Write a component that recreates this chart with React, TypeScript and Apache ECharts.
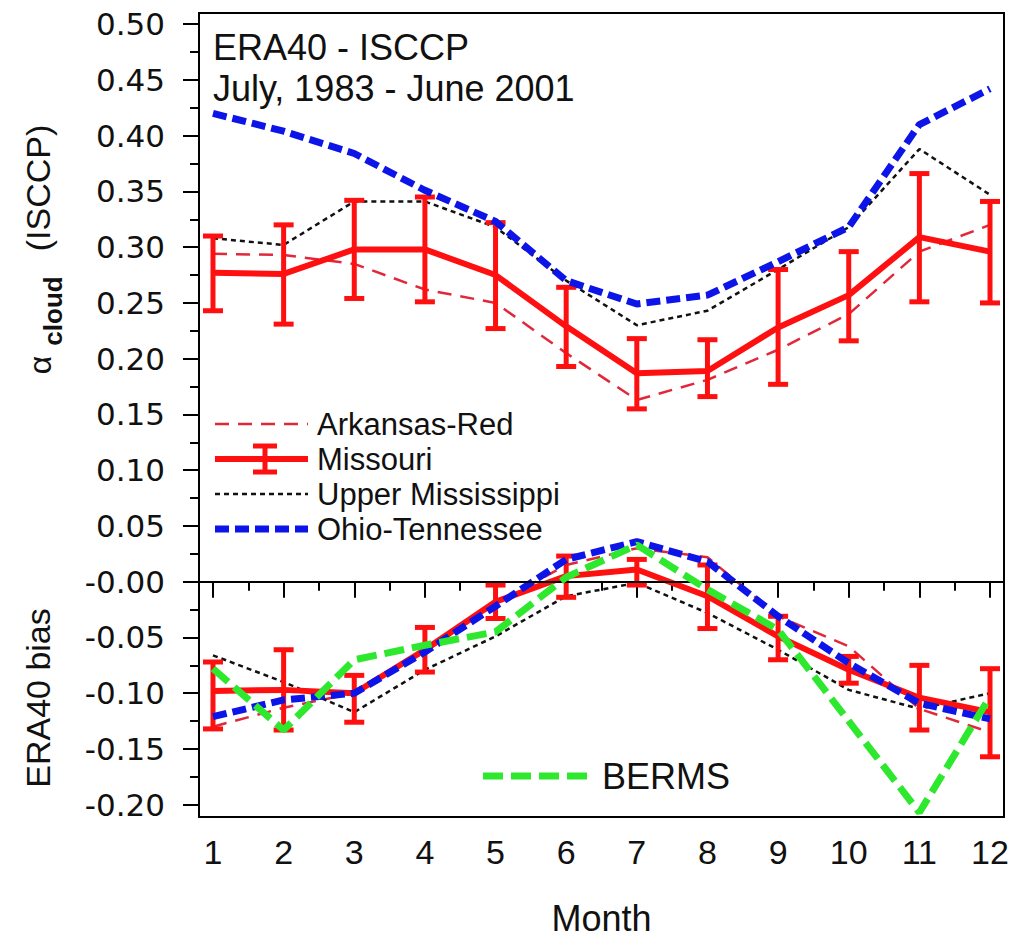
import React, { useEffect, useRef } from "react";
import * as echarts from "echarts";

// ---------- data ----------
const months = [1, 2, 3, 4, 5, 6, 7, 8, 9, 10, 11, 12];
const halfMonths = [1.5, 2.5, 3.5, 4.5, 5.5, 6.5, 7.5, 8.5, 9.5, 10.5, 11.5];

const yTickValues = [-0.2, -0.15, -0.1, -0.05, 0, 0.05, 0.1, 0.15, 0.2, 0.25, 0.3, 0.35, 0.4, 0.45, 0.5];
const yTickLabels = ["-0.20", "-0.15", "-0.10", "-0.05", "-0.00", "0.05", "0.10", "0.15", "0.20", "0.25", "0.30", "0.35", "0.40", "0.45", "0.50"];
const yMinorValues = [-0.175, -0.125, -0.075, -0.025, 0.025, 0.075, 0.125, 0.175, 0.225, 0.275, 0.325, 0.375, 0.425, 0.475];

// upper panel: alpha_cloud (ISCCP)
const arkansasRed = [0.294, 0.293, 0.285, 0.262, 0.250, 0.205, 0.163, 0.181, 0.208, 0.240, 0.296, 0.320];
const missouri = [0.277, 0.276, 0.298, 0.298, 0.275, 0.229, 0.187, 0.189, 0.228, 0.257, 0.309, 0.296];
const missouriLow = [0.243, 0.231, 0.254, 0.251, 0.227, 0.193, 0.155, 0.166, 0.177, 0.216, 0.251, 0.250];
const missouriHigh = [0.310, 0.320, 0.342, 0.345, 0.322, 0.264, 0.218, 0.217, 0.280, 0.296, 0.366, 0.341];
const upperMississippi = [0.308, 0.302, 0.341, 0.341, 0.318, 0.270, 0.230, 0.243, 0.280, 0.318, 0.388, 0.347];
const ohioTennessee = [0.420, 0.404, 0.384, 0.351, 0.323, 0.270, 0.249, 0.257, 0.287, 0.318, 0.410, 0.442];

// lower panel: ERA40 bias
const arkansasRedBias = [-0.130, -0.113, -0.100, -0.063, -0.020, 0.015, 0.030, 0.022, -0.031, -0.058, -0.114, -0.135];
const missouriBias = [-0.098, -0.097, -0.100, -0.061, -0.018, 0.005, 0.011, -0.013, -0.049, -0.079, -0.104, -0.117];
const missouriBiasLow = [-0.132, -0.133, -0.126, -0.081, -0.033, -0.014, -0.003, -0.042, -0.070, -0.091, -0.133, -0.157];
const missouriBiasHigh = [-0.072, -0.061, -0.084, -0.041, -0.003, 0.023, 0.020, 0.015, -0.031, -0.067, -0.075, -0.078];
const upperMississippiBias = [-0.066, -0.090, -0.117, -0.079, -0.049, -0.013, -0.001, -0.028, -0.061, -0.097, -0.114, -0.100];
const ohioTennesseeBias = [-0.121, -0.106, -0.100, -0.063, -0.022, 0.020, 0.036, 0.018, -0.031, -0.073, -0.109, -0.123];
const bermsBias = [-0.078, -0.133, -0.070, -0.057, -0.045, 0.004, 0.033, -0.007, -0.043, -0.125, -0.207, -0.103];

// ---------- styling ----------
const X_MIN = 0.802;
const X_MAX = 12.198;
const Y_MIN = -0.211;
const Y_MAX = 0.51;

const RED = "#ff1010";
const DRED = "#e0283a";
const BLUE = "#0c14e8";
const GREEN = "#2ee82e";
const BLACK = "#111111";
const SANS = "Liberation Sans, Arial, sans-serif";
const WIDE = "DejaVu Sans, sans-serif";

const pairs = (vals: number[]) => months.map((m, i) => [m, vals[i]]);
const errPairs = (lo: number[], hi: number[]) => months.map((m, i) => [m, lo[i], hi[i]]);

const errRender = (params: any, api: any) => {
  const x = api.value(0);
  const p1 = api.coord([x, api.value(2)]);
  const p2 = api.coord([x, api.value(1)]);
  const hw = 10;
  const st = { stroke: RED, lineWidth: 5 };
  return {
    type: "group",
    children: [
      { type: "line", shape: { x1: p1[0], y1: p1[1], x2: p2[0], y2: p2[1] }, style: st },
      { type: "line", shape: { x1: p1[0] - hw, y1: p1[1], x2: p1[0] + hw, y2: p1[1] }, style: st },
      { type: "line", shape: { x1: p2[0] - hw, y1: p2[1], x2: p2[0] + hw, y2: p2[1] }, style: st },
    ],
  };
};

const lineSeries = (name: string, vals: number[], color: string, width: number, dash: any, z = 2) => ({
  name,
  type: "line",
  data: pairs(vals),
  symbol: "none",
  z,
  lineStyle: { color, width, type: dash },
});

export default function App() {
  const ref = useRef<HTMLDivElement>(null);

  useEffect(() => {
    if (!ref.current) return;
    const chart = echarts.init(ref.current, null, { renderer: "svg" });

    const legendRows = [
      { label: "Arkansas-Red", y: 424, color: DRED, width: 2.5, dash: [14, 9] },
      { label: "Missouri", y: 459, color: RED, width: 6, dash: null },
      { label: "Upper Mississippi", y: 494, color: BLACK, width: 2.5, dash: [5, 4] },
      { label: "Ohio-Tennessee", y: 529, color: BLUE, width: 7, dash: [14, 6] },
    ];
    const legendGraphics: any[] = [];
    legendRows.forEach((r) => {
      legendGraphics.push({
        type: "line",
        shape: { x1: 215, y1: r.y, x2: 308, y2: r.y },
        style: { stroke: r.color, lineWidth: r.width, lineDash: r.dash || undefined },
      });
      legendGraphics.push({
        type: "text",
        x: 317,
        y: r.y,
        style: { text: r.label, font: `31px ${SANS}`, fill: BLACK, verticalAlign: "middle", align: "left" },
      });
    });
    // Missouri legend error bar icon
    legendGraphics.push(
      { type: "line", shape: { x1: 265, y1: 446, x2: 265, y2: 472 }, style: { stroke: RED, lineWidth: 5 } },
      { type: "line", shape: { x1: 253, y1: 446, x2: 277, y2: 446 }, style: { stroke: RED, lineWidth: 5 } },
      { type: "line", shape: { x1: 253, y1: 472, x2: 277, y2: 472 }, style: { stroke: RED, lineWidth: 5 } },
      { type: "line", shape: { x1: 483, y1: 776, x2: 592, y2: 776 }, style: { stroke: GREEN, lineWidth: 7, lineDash: [20, 8] } },
      { type: "text", x: 602, y: 776, style: { text: "BERMS", font: `36px ${SANS}`, fill: BLACK, verticalAlign: "middle" } }
    );

    const option: any = {
      animation: false,
      backgroundColor: "#ffffff",
      grid: { left: 199, right: 21, top: 13, bottom: 124, show: true, borderColor: "#000", borderWidth: 2 },
      xAxis: [
        {
          type: "value",
          min: X_MIN,
          max: X_MAX,
          position: "bottom",
          axisLine: { show: true, lineStyle: { color: "#000", width: 2 } },
          axisTick: { show: true, customValues: months, length: 16, lineStyle: { color: "#000", width: 2 } },
          axisLabel: { customValues: months, margin: 18, fontSize: 34, fontFamily: SANS, color: BLACK },
          splitLine: { show: false },
          name: "Month",
          nameLocation: "middle",
          nameGap: 83,
          nameTextStyle: { fontSize: 36, fontFamily: SANS, color: BLACK },
        },
        {
          type: "value",
          min: X_MIN,
          max: X_MAX,
          position: "bottom",
          axisLine: { show: false },
          axisTick: { show: true, customValues: halfMonths, length: 9, lineStyle: { color: "#000", width: 2 } },
          axisLabel: { show: false },
          splitLine: { show: false },
        },
      ],
      yAxis: [
        {
          type: "value",
          min: Y_MIN,
          max: Y_MAX,
          position: "left",
          axisLine: { show: true, lineStyle: { color: "#000", width: 2 } },
          axisTick: { show: true, customValues: yTickValues, length: 16, lineStyle: { color: "#000", width: 2 } },
          axisLabel: {
            customValues: yTickValues,
            margin: 34,
            fontSize: 31,
            fontFamily: WIDE,
            color: BLACK,
            formatter: (v: number) => {
              let best = 0;
              yTickValues.forEach((t, i) => {
                if (Math.abs(t - v) < Math.abs(yTickValues[best] - v)) best = i;
              });
              return yTickLabels[best];
            },
          },
          splitLine: { show: false },
        },
        {
          type: "value",
          min: Y_MIN,
          max: Y_MAX,
          position: "left",
          axisLine: { show: false },
          axisTick: { show: true, customValues: yMinorValues, length: 9, lineStyle: { color: "#000", width: 2 } },
          axisLabel: { show: false },
          splitLine: { show: false },
        },
      ],
      series: [
        {
          ...lineSeries("Arkansas-Red", arkansasRed, DRED, 2.5, [14, 9]),
        },
        {
          ...lineSeries("Arkansas-Red bias", arkansasRedBias, DRED, 2.5, [14, 9]),
          markLine: {
            silent: true,
            symbol: "none",
            label: { show: false },
            lineStyle: { color: "#000", width: 2, type: "solid" },
            data: [{ yAxis: 0 }],
          },
        },
        lineSeries("Upper Mississippi", upperMississippi, BLACK, 2.5, [5, 4]),
        lineSeries("Upper Mississippi bias", upperMississippiBias, BLACK, 2.5, [5, 4]),
        lineSeries("Missouri", missouri, RED, 6, "solid", 3),
        lineSeries("Missouri bias", missouriBias, RED, 6, "solid", 3),
        {
          name: "Missouri error",
          type: "custom",
          renderItem: errRender,
          data: errPairs(missouriLow, missouriHigh),
          encode: { x: 0, y: [1, 2] },
          z: 3,
        },
        {
          name: "Missouri bias error",
          type: "custom",
          renderItem: errRender,
          data: errPairs(missouriBiasLow, missouriBiasHigh),
          encode: { x: 0, y: [1, 2] },
          z: 3,
        },
        lineSeries("Ohio-Tennessee", ohioTennessee, BLUE, 7, [14, 6], 4),
        lineSeries("Ohio-Tennessee bias", ohioTennesseeBias, BLUE, 7, [14, 6], 4),
        lineSeries("BERMS", bermsBias, GREEN, 7, [20, 8], 5),
      ],
      graphic: [
        { type: "text", x: 213, y: 47, style: { text: "ERA40 - ISCCP", font: `36px ${SANS}`, fill: BLACK, verticalAlign: "middle" } },
        { type: "text", x: 213, y: 88, style: { text: "July, 1983 - June 2001", font: `36px ${SANS}`, fill: BLACK, verticalAlign: "middle" } },
        { type: "text", x: 40, y: 365, rotation: Math.PI / 2, style: { text: "α", font: `32px ${SANS}`, fill: BLACK, align: "center", verticalAlign: "middle" } },
        { type: "text", x: 53, y: 311, rotation: Math.PI / 2, style: { text: "cloud", font: `bold 26px ${SANS}`, fill: BLACK, align: "center", verticalAlign: "middle" } },
        { type: "text", x: 38, y: 188, rotation: Math.PI / 2, style: { text: "(ISCCP)", font: `34px ${SANS}`, fill: BLACK, align: "center", verticalAlign: "middle" } },
        { type: "text", x: 38, y: 698, rotation: Math.PI / 2, style: { text: "ERA40 bias", font: `34px ${SANS}`, fill: BLACK, align: "center", verticalAlign: "middle" } },
        ...legendGraphics,
      ],
    };

    chart.setOption(option);
    return () => chart.dispose();
  }, []);

  return <div ref={ref} style={{ width: 1025, height: 941, position: "absolute", left: 0, top: 0 }} />;
}
